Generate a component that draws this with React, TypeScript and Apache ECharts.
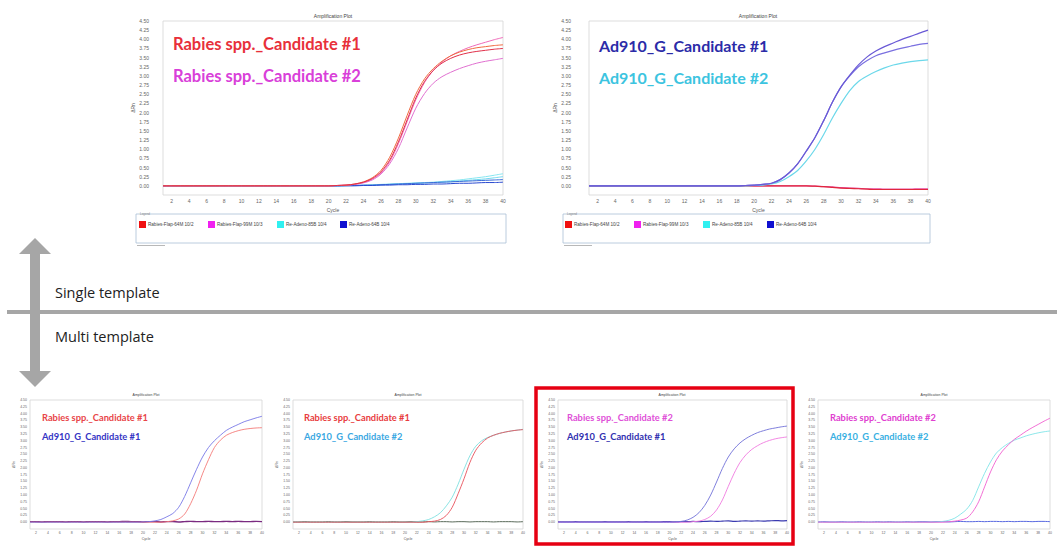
import React, { useEffect, useRef } from "react";
import * as echarts from "echarts";

// ---------- data ----------
const CYCLES = [1,2,3,4,5,6,7,8,9,10,11,12,13,14,15,16,17,18,19,20,21,22,23,24,25,26,27,28,29,30,31,32,33,34,35,36,37,38,39,40];
const X_TICKS = [2,4,6,8,10,12,14,16,18,20,22,24,26,28,30,32,34,36,38,40];
const LEGEND_NAMES = ["Rabies-Flap-64M 10/2", "Rabies-Flap-99M 10/3", "Re-Adeno-85B 10/4", "Re-Adeno-64B 10/4"];
const CANDIDATES = ["Rabies spp._Candidate #1", "Rabies spp._Candidate #2", "Ad910_G_Candidate #1", "Ad910_G_Candidate #2"];
const SECTION_LABELS = ["Single template", "Multi template"];

// single template – Rabies primers
const TL_RED_A = [0,0,0,0,0,0,0,0,0,0,0,0,0,0,0,0,0,0,0,0,0.01,0.02,0.05,0.1,0.2,0.38,0.7,1.2,1.8,2.4,2.85,3.15,3.35,3.48,3.57,3.63,3.67,3.7,3.73,3.75];
const TL_RED_B = [0,0,0,0,0,0,0,0,0,0,0,0,0,0,0,0,0,0,0,0,0.01,0.02,0.05,0.11,0.22,0.42,0.78,1.3,1.92,2.5,2.92,3.2,3.4,3.55,3.65,3.72,3.77,3.8,3.83,3.85];
const TL_MAG_A = [0,0,0,0,0,0,0,0,0,0,0,0,0,0,0,0,0,0,0,0,0.01,0.02,0.04,0.09,0.18,0.35,0.66,1.15,1.75,2.35,2.82,3.15,3.38,3.55,3.67,3.77,3.85,3.92,3.99,4.05];
const TL_MAG_B = [0,0,0,0,0,0,0,0,0,0,0,0,0,0,0,0,0,0,0,0,0.01,0.02,0.04,0.08,0.16,0.32,0.6,1.02,1.58,2.12,2.52,2.8,2.98,3.1,3.2,3.28,3.35,3.4,3.44,3.48];
const TL_CYAN_A = [0,0,0,0,0,0,0,0,0,0,0,0,0,0,0,0,0,0,0,0,0,0.01,0.01,0.02,0.03,0.04,0.05,0.06,0.07,0.08,0.09,0.1,0.12,0.14,0.16,0.19,0.22,0.25,0.29,0.33];
const TL_CYAN_B = [0,0,0,0,0,0,0,0,0,0,0,0,0,0,0,0,0,0,0,0,0,0,0.01,0.01,0.02,0.03,0.04,0.05,0.06,0.07,0.08,0.09,0.1,0.11,0.13,0.15,0.17,0.19,0.22,0.25];
const TL_BLUE_A = [0,0,0,0,0,0,0,0,0,0,0,0,0,0,0,0,0,0,0,0,0,0.01,0.01,0.02,0.02,0.03,0.04,0.05,0.06,0.07,0.08,0.09,0.1,0.11,0.12,0.13,0.14,0.15,0.16,0.17];
const TL_BLUE_B = [0,0,0,0,0,0,0,0,0,0,0,0,0,0,0,0,0,0,0,0,0,0,0,0.01,0.01,0.02,0.02,0.03,0.03,0.04,0.04,0.05,0.05,0.06,0.07,0.07,0.08,0.09,0.09,0.1];

// single template – Ad910 primers
const TR_BLUE_A = [0,0,0,0,0,0,0,0,0,0,0,0,0,0,0,0,0,0,0.01,0.02,0.04,0.07,0.17,0.35,0.6,0.95,1.32,1.78,2.28,2.7,3.02,3.3,3.52,3.68,3.8,3.9,4.0,4.08,4.17,4.25];
const TR_BLUE_B = [0,0,0,0,0,0,0,0,0,0,0,0,0,0,0,0,0,0,0.01,0.02,0.04,0.07,0.17,0.35,0.6,0.95,1.32,1.78,2.28,2.7,3.0,3.25,3.42,3.55,3.63,3.7,3.76,3.81,3.86,3.89];
const TR_CYAN = [0,0,0,0,0,0,0,0,0,0,0,0,0,0,0,0,0,0,0,0.01,0.02,0.05,0.12,0.25,0.42,0.68,1.0,1.4,1.85,2.25,2.6,2.85,3.0,3.12,3.22,3.3,3.35,3.39,3.42,3.44];
const TR_RED = [0,0,0,0,0,0,0,0,0,0,0,0,0,0,0,0,0,0,0,0,0,0,0,0,0,0,-0.01,-0.02,-0.04,-0.06,-0.07,-0.08,-0.09,-0.1,-0.1,-0.1,-0.1,-0.1,-0.1,-0.1];
const TR_MAG = [0,0,0,0,0,0,0,0,0,0,0,0,0,0,0,0,0,0,0,0,0,0,0,0,0,0,-0.01,-0.02,-0.03,-0.05,-0.06,-0.07,-0.08,-0.08,-0.09,-0.09,-0.09,-0.09,-0.08,-0.08];

// multi template
const B1_BLUE = [0,0,0,0,0,0,0,0,0,0,0,0,0,0,0,0,0,0,0,0.01,0.02,0.05,0.1,0.2,0.32,0.55,0.95,1.45,1.95,2.4,2.75,3.0,3.2,3.38,3.5,3.6,3.7,3.77,3.84,3.9];
const B1_RED = [0,0,0,0,0,0,0,0,0,0,0,0,0,0,0,0,0,0,0,0,0,0,0,0.02,0.05,0.12,0.3,0.68,1.18,1.78,2.3,2.75,3.02,3.2,3.3,3.37,3.42,3.45,3.47,3.48];
const B1_FLAT = [0.02,0.02,0.01,0.02,0.02,0.02,0.01,0.02,0.02,0.01,0.02,0.02,0.02,0.01,0.02,0.02,0.03,0.02,0.02,0.01,0.02,0.02,0.01,0.02,0.02,0.01,0.02,0.03,0.02,0.02,0.03,0.02,0.02,0.03,0.02,0.03,0.02,0.02,0.03,0.02];

const B2_CYAN = [0,0,0,0,0,0,0,0,0,0,0,0,0,0,0,0,0,0,0,0,0,0.02,0.05,0.1,0.2,0.35,0.6,0.92,1.4,1.95,2.45,2.8,3.0,3.12,3.2,3.27,3.32,3.36,3.39,3.42];
const B2_RED = [0,0,0,0,0,0,0,0,0,0,0,0,0,0,0,0,0,0,0,0,0,0,0,0.02,0.04,0.1,0.25,0.55,1.05,1.6,2.2,2.65,2.92,3.1,3.2,3.27,3.32,3.36,3.39,3.41];
const B2_FLAT = [0.01,0.01,0.02,0.01,0.01,0.01,0.02,0.01,0.01,0.02,0.01,0.01,0.01,0.02,0.01,0.01,0.01,0.02,0.01,0.01,0.02,0.01,0.01,0.02,0.01,0.02,0.02,0.01,0.02,0.02,0.01,0.02,0.02,0.02,0.01,0.02,0.02,0.02,0.01,0.02];

const B3_BLUE = [0,0,0,0,0,0,0,0,0,0,0,0,0,0,0,0,0,0,0,0,0.01,0.03,0.08,0.18,0.35,0.62,1.0,1.48,1.98,2.4,2.7,2.92,3.08,3.2,3.3,3.37,3.43,3.47,3.51,3.54];
const B3_MAG = [0,0,0,0,0,0,0,0,0,0,0,0,0,0,0,0,0,0,0,0,0,0,0,0.02,0.04,0.1,0.22,0.45,0.82,1.32,1.8,2.2,2.48,2.68,2.82,2.93,3.01,3.07,3.11,3.14];
const B3_FLAT = [0.01,0.01,0.01,0.02,0.01,0.01,0.01,0.01,0.02,0.01,0.01,0.01,0.02,0.01,0.01,0.02,0.01,0.01,0.02,0.02,0.01,0.02,0.02,0.03,0.02,0.03,0.04,0.03,0.04,0.05,0.03,0.04,0.05,0.04,0.05,0.04,0.05,0.06,0.05,0.06];

const B4_CYAN = [0,0,0,0,0,0,0,0,0,0,0,0,0,0,0,0,0,0,0,0,0.01,0.03,0.07,0.15,0.3,0.48,0.8,1.3,1.8,2.22,2.55,2.75,2.9,3.02,3.1,3.18,3.24,3.29,3.33,3.36];
const B4_MAG = [0,0,0,0,0,0,0,0,0,0,0,0,0,0,0,0,0,0,0,0,0,0,0.02,0.04,0.08,0.15,0.38,0.75,1.3,1.85,2.3,2.62,2.85,3.05,3.2,3.35,3.48,3.6,3.72,3.83];
const B4_FLAT = [0.01,0.02,0.01,0.01,0.02,0.01,0.01,0.02,0.01,0.01,0.02,0.01,0.02,0.01,0.01,0.02,0.01,0.02,0.02,0.01,0.02,0.02,0.01,0.02,0.03,0.02,0.02,0.03,0.02,0.03,0.03,0.02,0.03,0.02,0.03,0.03,0.02,0.03,0.03,0.02];

// ---------- layout / styles ----------
const GRIDS = [
  { left: 163, top: 21, width: 340, height: 174, fs: 5, lm: 14, title: [333, 16] },
  { left: 589, top: 21, width: 339, height: 174, fs: 5, lm: 18, title: [758, 16] },
  { left: 30, top: 400, width: 232, height: 129, fs: 3.5, lm: 3, title: [146, 395] },
  { left: 293, top: 400, width: 230, height: 129, fs: 3.5, lm: 3, title: [408, 395] },
  { left: 558, top: 400, width: 229, height: 129, fs: 3.5, lm: 3, title: [672, 395] },
  { left: 818, top: 400, width: 232, height: 129, fs: 3.5, lm: 3, title: [934, 395] },
];

const SERIES_DEF: [number, number[], string, number][] = [
  [0, TL_CYAN_A, "#86e6f0", 1], [0, TL_CYAN_B, "#70d8ee", 1],
  [0, TL_BLUE_A, "#3a6ad8", 1], [0, TL_BLUE_B, "#2a4ad0", 1],
  [0, TL_MAG_B, "#e070d0", 1], [0, TL_MAG_A, "#ee6ab8", 1],
  [0, TL_RED_B, "#f06a40", 1], [0, TL_RED_A, "#e0304a", 1],
  [1, TR_MAG, "#e84aa0", 1.2], [1, TR_RED, "#e0283c", 1.2],
  [1, TR_CYAN, "#6cd8ea", 1.2], [1, TR_BLUE_B, "#7a70e0", 1.2], [1, TR_BLUE_A, "#6a5ad6", 1.2],
  [2, B1_FLAT, "#7a2a80", 1.4], [2, B1_RED, "#f47a78", 0.9], [2, B1_BLUE, "#7878e6", 0.9],
  [3, B2_FLAT, "#5a6a5a", 1], [3, B2_CYAN, "#7ee0e0", 0.9], [3, B2_RED, "#e8505a", 0.9],
  [4, B3_FLAT, "#3a3ab0", 1.2], [4, B3_MAG, "#f07ae0", 0.9], [4, B3_BLUE, "#7070d8", 0.9],
  [5, B4_FLAT, "#5a6ae0", 1], [5, B4_CYAN, "#80e4e8", 0.9], [5, B4_MAG, "#f060d0", 0.9],
];

const LEGEND_COLORS = ["#f01010", "#f020f0", "#30f0f0", "#1010d0"];

const LABELS: [string, number, number, string, number][] = [
  [CANDIDATES[0], 173, 44, "#e8303a", 16.5],
  [CANDIDATES[1], 173, 76, "#d940d9", 16.5],
  [CANDIDATES[2], 599, 45, "#2b2ba8", 16],
  [CANDIDATES[3], 599, 77, "#3cc4e0", 16],
  [CANDIDATES[0], 42, 417, "#e84448", 9.3],
  [CANDIDATES[2], 42, 436, "#3434c4", 9.3],
  [CANDIDATES[0], 304, 417, "#e83c40", 9.3],
  [CANDIDATES[3], 304, 436, "#3aa8e2", 9.3],
  [CANDIDATES[1], 567, 417, "#e050d8", 9.3],
  [CANDIDATES[2], 567, 436, "#3030b0", 9.3],
  [CANDIDATES[1], 830, 417, "#e040d0", 9.3],
  [CANDIDATES[3], 830, 436, "#38b0e2", 9.3],
];

function legendBox(x0: number, x1: number, itemXs: number[]) {
  const els: any[] = [
    { type: "rect", shape: { x: x0, y: 214, width: x1 - x0, height: 29 }, style: { fill: "#fff", stroke: "#a9bfd6", lineWidth: 0.8 } },
    { type: "text", x: x0 + 4, y: 214, style: { text: "Legend", fill: "#888", font: "3px Arial", textVerticalAlign: "middle", verticalAlign: "middle" } },
    { type: "line", shape: { x1: x0 + 1, y1: 245.5, x2: x0 + 29, y2: 245.5 }, style: { stroke: "#b8b8b8", lineWidth: 1 } },
  ];
  itemXs.forEach((ix, i) => {
    els.push({ type: "rect", shape: { x: ix, y: 221, width: 7, height: 7 }, style: { fill: LEGEND_COLORS[i] } });
    els.push({ type: "text", x: ix + 9, y: 224.5, style: { text: LEGEND_NAMES[i], fill: "#444", font: "4.6px Arial", textVerticalAlign: "middle", verticalAlign: "middle" } });
  });
  return els;
}

export default function App() {
  const ref = useRef<HTMLDivElement>(null);
  useEffect(() => {
    if (!ref.current) return;
    const chart = echarts.init(ref.current, null, { renderer: "svg" });
    const grid = GRIDS.map((g) => ({
      left: g.left, top: g.top, width: g.width, height: g.height,
      show: true, borderColor: "#d4d4d4", borderWidth: 0.8, backgroundColor: "#fff",
    }));
    const xAxis = GRIDS.map((g, i) => ({
      type: "value", gridIndex: i, min: 1, max: 40,
      name: "Cycle", nameLocation: "middle", nameGap: g.fs === 5 ? 12 : 8,
      nameTextStyle: { fontSize: g.fs, color: "#555", fontFamily: "Arial" },
      axisLine: { show: false }, axisTick: { show: false }, splitLine: { show: false },
      axisLabel: { customValues: X_TICKS, fontSize: g.fs, color: "#666", margin: g.fs === 5 ? 3 : 1.5, fontFamily: "Arial" },
    }));
    const yAxis = GRIDS.map((g, i) => ({
      type: "value", gridIndex: i, min: -0.25, max: 4.5, interval: 0.25,
      name: "ΔRn", nameLocation: "middle", nameGap: g.fs === 5 ? g.lm + 13 : 12, nameRotate: 90,
      nameTextStyle: { fontSize: g.fs, color: "#555", fontFamily: "Arial" },
      axisLine: { show: false }, axisTick: { show: false }, splitLine: { show: false },
      axisLabel: {
        fontSize: g.fs, color: "#666", margin: g.lm, fontFamily: "Arial",
        formatter: (v: number) => (v < 0 ? "" : v.toFixed(2)),
      },
    }));
    const series = SERIES_DEF.map(([gi, vals, color, w]) => ({
      type: "line", xAxisIndex: gi, yAxisIndex: gi,
      data: vals.map((v, k) => [CYCLES[k], v]),
      showSymbol: false, smooth: 0.3, silent: true,
      lineStyle: { color, width: w }, itemStyle: { color },
    }));

    const graphic: any[] = [];
    GRIDS.forEach((g) => {
      graphic.push({ type: "text", x: g.title[0], y: g.title[1], style: { text: "Amplification Plot", fill: "#444", font: `${g.fs}px Arial`, textAlign: "center", align: "center", textVerticalAlign: "middle", verticalAlign: "middle" } });
    });
    LABELS.forEach(([t, x, y, c, fs]) => {
      graphic.push({ type: "text", x, y, z: 10, style: { text: t, fill: c, font: `bold ${fs}px Lato`, textVerticalAlign: "middle", verticalAlign: "middle" } });
    });
    graphic.push(...legendBox(136, 506, [139, 208, 277, 340]));
    graphic.push(...legendBox(563, 930, [565, 634, 703, 767]));
    // section divider & arrow
    graphic.push({ type: "line", shape: { x1: 7, y1: 312, x2: 1057, y2: 312 }, style: { stroke: "#a6a6a6", lineWidth: 4 } });
    graphic.push({
      type: "polygon",
      shape: { points: [[35, 238], [51, 254], [40, 254], [40, 371], [51, 371], [35, 387], [19, 371], [30, 371], [30, 254], [19, 254]] },
      style: { fill: "#a6a6a6" },
    });
    graphic.push({ type: "text", x: 55, y: 292, style: { text: SECTION_LABELS[0], fill: "#222", font: "14.5px 'Open Sans'", textVerticalAlign: "middle", verticalAlign: "middle" } });
    graphic.push({ type: "text", x: 55, y: 336, style: { text: SECTION_LABELS[1], fill: "#222", font: "14.5px 'Open Sans'", textVerticalAlign: "middle", verticalAlign: "middle" } });
    // highlight box
    graphic.push({ type: "rect", z: 20, shape: { x: 536, y: 388, width: 257, height: 156 }, style: { fill: "none", stroke: "#e60012", lineWidth: 3.5 } });

    chart.setOption({
      animation: false,
      backgroundColor: "#fff",
      grid, xAxis, yAxis, series, graphic,
    });
    return () => chart.dispose();
  }, []);
  return <div ref={ref} style={{ position: "absolute", left: 0, top: 0, width: 1057, height: 546 }} />;
}
